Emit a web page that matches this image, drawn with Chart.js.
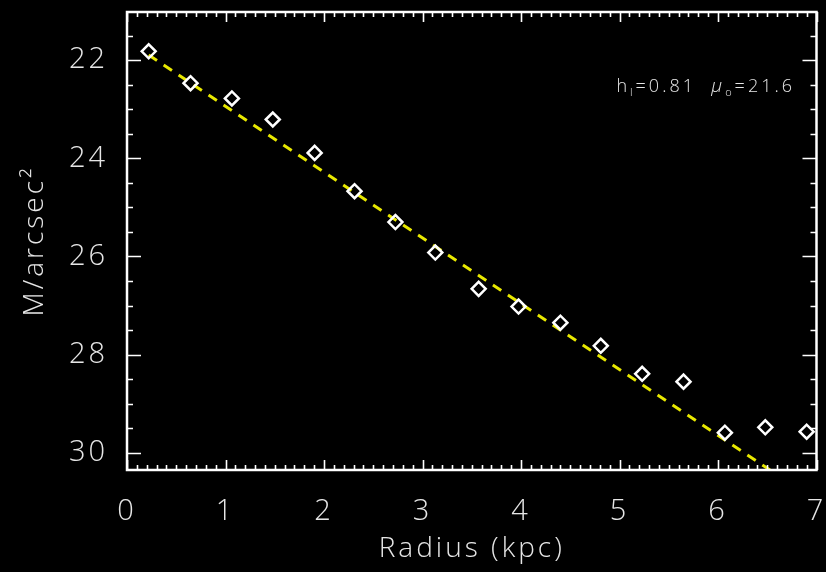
<!doctype html>
<html lang="en">
<head>
<meta charset="utf-8">
<title>Radial profile</title>
<script src="https://cdn.jsdelivr.net/npm/chart.js@4.4.1/dist/chart.umd.min.js"></script>
<style>
  html, body { margin: 0; padding: 0; background: #000; }
  #wrap { width: 826px; height: 572px; }
</style>
</head>
<body>
<div id="wrap"><canvas id="profile" width="826" height="572"></canvas></div>
<script>
// surface brightness profile
var radius = [0.22, 0.645, 1.065, 1.48, 1.905, 2.31, 2.725, 3.13, 3.57, 3.975, 4.40, 4.81, 5.23, 5.65, 6.07, 6.48, 6.90];
var mu = [21.82, 22.47, 22.78, 23.21, 23.89, 24.67, 25.30, 25.92, 26.66, 27.02, 27.35, 27.82, 28.39, 28.55, 29.59, 29.48, 29.57];
var xTicks = [0, 1, 2, 3, 4, 5, 6, 7];
var yTicks = [22, 24, 26, 28, 30];

// exponential disk fit: mu(r) = mu0 + 1.0857 r / h
var hScale = 0.81;
var mu0 = 21.6;
function diskMu(r) { return mu0 + 1.0857 * r / hScale; }

var fitLine = [
  { x: radius[0], y: diskMu(radius[0]) },
  { x: 7, y: diskMu(7) }
];

var points = radius.map(function (r, i) { return { x: r, y: mu[i] }; });

var textColor = '#e6e6e6';
var family = '"Open Sans", "DejaVu Sans", sans-serif';

// spaced-out lettering, like the old vector fonts
var spacing = {
  id: 'spacing',
  beforeDraw: function (chart) { chart.ctx.letterSpacing = '3px'; },
  afterDraw: function (chart) { chart.ctx.letterSpacing = '0px'; }
};

// box around the plot with inward ticks on all four sides
var frameTicks = {
  id: 'frameTicks',
  afterDraw: function (chart) {
    var ctx = chart.ctx, a = chart.chartArea;
    var xs = chart.scales.x, ys = chart.scales.y;
    ctx.save();
    ctx.strokeStyle = '#fff';
    ctx.lineWidth = 1.6;
    ctx.beginPath();
    for (var i = 0; i <= 70; i++) {
      var px = Math.round(xs.getPixelForValue(i / 10)) + 0.5;
      var len = i % 10 === 0 ? 10 : 5;
      ctx.moveTo(px, a.bottom); ctx.lineTo(px, a.bottom - len);
      ctx.moveTo(px, a.top); ctx.lineTo(px, a.top + len);
    }
    for (var j = 43; j <= 60; j++) {
      var py = Math.round(ys.getPixelForValue(j / 2)) + 0.5;
      var ylen = j % 4 === 0 ? 14 : 6;
      ctx.moveTo(a.left, py); ctx.lineTo(a.left + ylen, py);
      ctx.moveTo(a.right, py); ctx.lineTo(a.right - ylen, py);
    }
    ctx.stroke();
    ctx.lineWidth = 2.5;
    ctx.strokeRect(a.left, a.top, a.right - a.left, a.bottom - a.top);

    // fit parameters, with subscripts
    ctx.letterSpacing = '3px';
    ctx.fillStyle = textColor;
    ctx.textBaseline = 'alphabetic';
    var big = '300 18px ' + family, small = '300 11px ' + family, ital = 'italic 300 19px ' + family;
    var parts = [
      { t: 'h', f: big, dy: 0 },
      { t: 'l', f: small, dy: 4 },
      { t: '=' + hScale.toFixed(2), f: big, dy: 0 },
      { t: '  ', f: big, dy: 0 },
      { t: '\u03bc', f: ital, dy: 0 },
      { t: 'o', f: small, dy: 4 },
      { t: '=' + mu0.toFixed(1), f: big, dy: 0 }
    ];
    var total = 0;
    parts.forEach(function (p) { ctx.font = p.f; p.w = ctx.measureText(p.t).width; total += p.w; });
    var x = 795 - total, base = 92;
    parts.forEach(function (p) {
      ctx.font = p.f;
      ctx.fillText(p.t, x, base + p.dy);
      x += p.w;
    });
    ctx.restore();
  }
};

new Chart(document.getElementById('profile'), {
  type: 'scatter',
  data: {
    datasets: [
      {
        label: 'profile',
        data: points,
        pointStyle: 'rectRot',
        pointRadius: 7,
        pointBorderWidth: 2.5,
        pointBorderColor: '#ffffff',
        pointBackgroundColor: 'rgba(0,0,0,0)'
      },
      {
        label: 'fit',
        data: fitLine,
        showLine: true,
        borderColor: '#e8e800',
        borderWidth: 3,
        borderDash: [10, 8],
        pointRadius: 0
      }
    ]
  },
  options: {
    responsive: false,
    animation: false,
    layout: { padding: { top: 12, right: 8, left: 0, bottom: 0 } },
    plugins: { legend: { display: false }, tooltip: { enabled: false } },
    scales: {
      x: {
        type: 'linear',
        min: 0,
        max: 7,
        afterBuildTicks: function (s) { s.ticks = xTicks.map(function (v) { return { value: v }; }); },
        afterFit: function (s) { s.height = 102; s.paddingLeft = 0; s.paddingRight = 0; },
        grid: { display: false },
        border: { display: false },
        ticks: { color: textColor, font: { family: family, size: 29, weight: '300' }, padding: 16, maxRotation: 0, autoSkip: false },
        title: { display: true, text: 'Radius (kpc)', color: textColor, font: { family: family, size: 28, weight: '300' }, padding: { top: 0, bottom: 6 } }
      },
      y: {
        type: 'linear',
        reverse: true,
        min: 21.02,
        max: 30.35,
        afterBuildTicks: function (s) { s.ticks = yTicks.map(function (v) { return { value: v }; }); },
        afterFit: function (s) { s.width = 127; s.paddingTop = 0; s.paddingBottom = 0; },
        grid: { display: false },
        border: { display: false },
        ticks: { color: textColor, font: { family: family, size: 29, weight: '300' }, padding: 11, autoSkip: false },
        title: { display: true, text: 'M/arcsec\u00b2', color: textColor, font: { family: family, size: 28, weight: '300' }, padding: { top: 18, bottom: 0 } }
      }
    }
  },
  plugins: [spacing, frameTicks]
});
</script>
</body>
</html>
